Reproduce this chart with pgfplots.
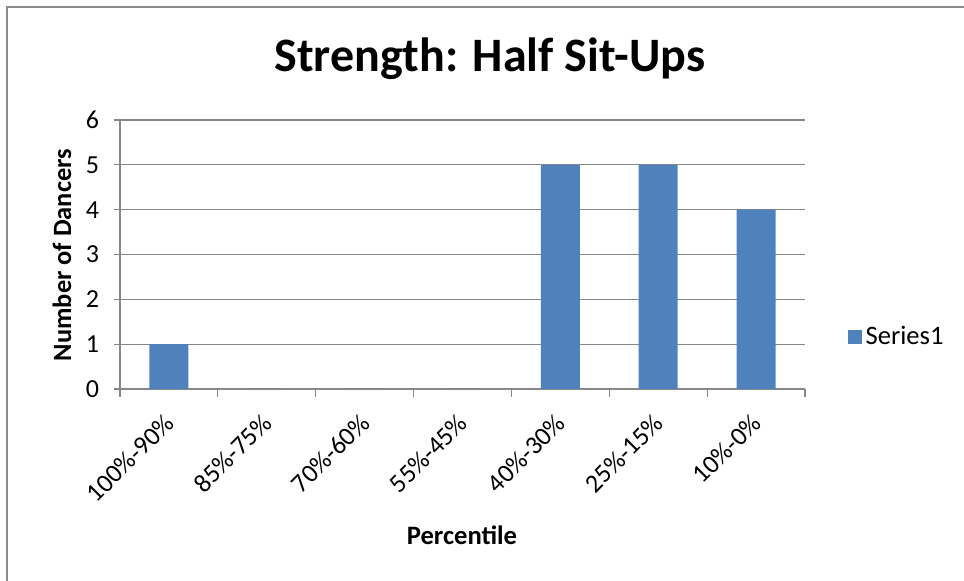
\documentclass[border=0pt]{standalone}
\usepackage{pgfplots}
\pgfplotsset{compat=1.18}
\usepackage{fontspec}
\setmainfont{Carlito}
\definecolor{barblue}{HTML}{4F81BD}
\definecolor{gridgray}{HTML}{878787}
\definecolor{framegray}{HTML}{8C8C8C}
\begin{document}
\begin{tikzpicture}
\useasboundingbox (0,0) rectangle (482pt,290.5pt);
\draw[framegray, line width=1.1pt] (3.6pt,0) -- (3.6pt,287pt) -- (482pt,287pt);
\begin{axis}[
  at={(60pt,96pt)}, anchor=south west,
  scale only axis, width=342.5pt, height=134.5pt,
  xmin=-0.5, xmax=6.5, ymin=0, ymax=6,
  axis x line=bottom, axis y line=left,
  axis line style={-, gridgray, line width=0.6pt},
  xtick={0,...,6},
  xticklabels={100\%-90\%,85\%-75\%,70\%-60\%,55\%-45\%,40\%-30\%,25\%-15\%,10\%-0\%},
  major x tick style={draw=none},
  minor xtick={-0.5,0.5,...,6.5},
  minor x tick style={gridgray, line width=0.6pt},
  minor tick length=4pt,
  ytick={0,...,6},
  ymajorgrids, grid style={gridgray, line width=0.6pt},
  major y tick style={gridgray, line width=0.6pt},
  major tick length=3pt,
  tick align=outside,
  /pgf/number format/assume math mode=true,
  yticklabel style={font=\fontsize{13}{15}\selectfont, xshift=-4pt},
  xticklabel style={font=\fontsize{13}{15}\selectfont, xshift=-3pt, yshift=-8.5pt, rotate=45, anchor=north east, inner sep=0pt},
  legend style={at={(1,0.193)}, anchor=west, xshift=21.5pt, draw=none, fill=none,
    font=\fontsize{13.3}{15}\selectfont, inner sep=0pt},
  legend image code/.code={\fill[barblue] (0pt,-3.3pt) rectangle (6.6pt,3.3pt);},
]
\addplot[ybar, bar width=19.5pt, fill=barblue, draw=none] coordinates {
  (0,1) (1,0) (2,0) (3,0) (4,5) (5,5) (6,4)
};
\addlegendentry{Series1}
\end{axis}
\node[font=\bfseries\fontsize{24}{28}\selectfont] at (245pt,261pt) {Strength: Half Sit-Ups};
\node[font=\bfseries\fontsize{13.2}{15}\selectfont, rotate=90] at (31pt,163pt) {Number of Dancers};
\node[font=\bfseries\fontsize{13.3}{15}\selectfont] at (231pt,23pt) {Percentile};
\end{tikzpicture}
\end{document}
